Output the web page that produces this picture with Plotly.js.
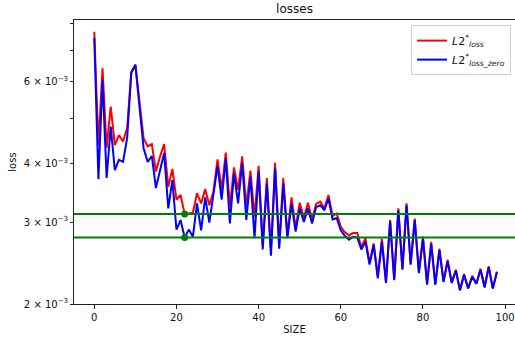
<!DOCTYPE html>
<html>
<head>
<meta charset="utf-8">
<script src="https://cdn.plot.ly/plotly-3.0.1.min.js"></script>
<style>html,body{margin:0;padding:0;background:#fff;}#chart{width:515px;height:341px;}</style>
</head>
<body>
<div id="chart"></div>
<script>
// SIZE values
var sizes = [];
for (var i = 0; i <= 98; i++) sizes.push(i);

// L2*_loss (units of 1e-3)
var lossRed = [
7.69,4.39,6.42,4.33,5.31,4.39,4.61,4.47,4.78,6.30,
6.53,5.41,4.54,4.36,4.41,3.85,4.15,4.41,3.57,3.90,
3.35,3.43,3.12,3.13,3.14,3.46,3.29,3.53,3.26,3.49,
4.09,3.52,4.23,3.24,3.93,3.52,4.15,3.24,3.87,3.08,
3.96,2.68,3.73,2.61,4.02,2.68,3.73,2.81,3.39,2.91,
3.30,3.06,3.30,3.03,3.28,3.32,3.21,3.43,3.09,3.13,
2.93,2.85,2.81,2.84,2.84,2.65,2.77,2.45,2.70,2.30,
2.76,2.23,3.03,2.26,3.21,2.38,3.29,2.44,3.05,2.34,
2.79,2.21,2.72,2.20,2.63,2.24,2.49,2.22,2.37,2.14,
2.32,2.16,2.30,2.21,2.38,2.18,2.41,2.16,2.35
];
// L2*_loss_zero (units of 1e-3)
var lossBlue = [
7.47,3.71,6.06,3.73,4.81,3.88,4.08,4.04,4.55,6.27,
6.53,5.33,4.32,4.04,4.16,3.55,3.88,4.22,3.21,3.69,
2.89,3.03,2.78,2.89,2.79,3.29,2.88,3.39,2.99,3.46,
3.96,3.35,4.11,2.98,3.82,3.29,4.02,3.03,3.75,2.77,
3.85,2.62,3.63,2.54,3.91,2.63,3.63,2.77,3.29,2.86,
3.21,3.00,3.21,2.98,3.23,3.26,3.18,3.37,3.04,3.06,
2.88,2.80,2.75,2.79,2.78,2.62,2.72,2.43,2.68,2.27,
2.72,2.22,3.01,2.25,3.18,2.37,3.26,2.43,3.03,2.33,
2.76,2.20,2.69,2.20,2.61,2.23,2.47,2.22,2.36,2.14,
2.31,2.16,2.29,2.21,2.37,2.17,2.40,2.16,2.34
];
var markIndex = 22;
var yTickVals = [2, 3, 4, 6];
var yTickText = ["2 × 10<sup>−3</sup>", "3 × 10<sup>−3</sup>", "4 × 10<sup>−3</sup>", "6 × 10<sup>−3</sup>"];
var yMinorVals = [5, 7, 8];
var xTickVals = [0, 20, 40, 60, 80, 100];

function scale(a){ return a.map(function(v){ return v * 1e-3; }); }
var red = scale(lossRed), blue = scale(lossBlue);
var xRange = [-4.94, 102.4];

var traces = [
  {x: sizes, y: red, type: 'scatter', mode: 'lines', name: '<i>L</i>2<sup>*</sup><sub><i>loss</i></sub>',
   line: {color: '#ff0000', width: 2}},
  {x: sizes, y: blue, type: 'scatter', mode: 'lines', name: '<i>L</i>2<sup>*</sup><sub><i>loss_zero</i></sub>',
   line: {color: '#0000ff', width: 2}},
  {x: xRange, y: [red[markIndex], red[markIndex]], type: 'scatter', mode: 'lines', showlegend: false,
   line: {color: '#008000', width: 2}},
  {x: xRange, y: [blue[markIndex], blue[markIndex]], type: 'scatter', mode: 'lines', showlegend: false,
   line: {color: '#008000', width: 2}},
  {x: [sizes[markIndex], sizes[markIndex]], y: [red[markIndex], blue[markIndex]], type: 'scatter', mode: 'markers',
   showlegend: false, marker: {color: '#008000', size: 7}}
];

var font = {family: 'DejaVu Sans', size: 10, color: '#111'};
var layout = {
  width: 515, height: 341,
  margin: {l: 74, r: 0, t: 20, b: 37},
  paper_bgcolor: '#fff', plot_bgcolor: '#fff',
  font: font,
  title: {text: 'losses', font: {family: 'DejaVu Sans', size: 12, color: '#111'},
          x: 0.5, xref: 'paper', y: 1 - 9/341, yref: 'container', yanchor: 'middle'},
  xaxis: {
    range: xRange, showgrid: false, zeroline: false,
    showline: true, linecolor: '#222', linewidth: 1, mirror: true,
    ticks: 'outside', ticklen: 3.5, tickcolor: '#222',
    tickmode: 'array', tickvals: xTickVals, ticktext: xTickVals.map(String),
    tickfont: font,
    title: {text: 'SIZE', font: font, standoff: 4}
  },
  yaxis: {
    type: 'log',
    range: [Math.log10(2e-3), Math.log10(8.15e-3)],
    showgrid: false, zeroline: false,
    showline: true, linecolor: '#222', linewidth: 1, mirror: false,
    ticks: 'outside', ticklen: 3, tickcolor: '#222',
    tickmode: 'array', tickvals: scale(yTickVals), ticktext: yTickText,
    tickfont: font,
    minor: {tickmode: 'array', tickvals: scale(yMinorVals), ticks: 'outside', ticklen: 3, tickcolor: '#222', showgrid: false},
    title: {text: 'loss', font: font, standoff: 5}
  },
  legend: {
    x: 0.991, y: 0.982, xanchor: 'right', yanchor: 'top',
    bgcolor: 'rgba(255,255,255,0.8)', bordercolor: '#d0d0d0', borderwidth: 1,
    font: {family: 'DejaVu Sans', size: 11, color: '#111'}
  },
  showlegend: true
};

Plotly.newPlot('chart', traces, layout, {displayModeBar: false, staticPlot: true});
</script>
</body>
</html>
